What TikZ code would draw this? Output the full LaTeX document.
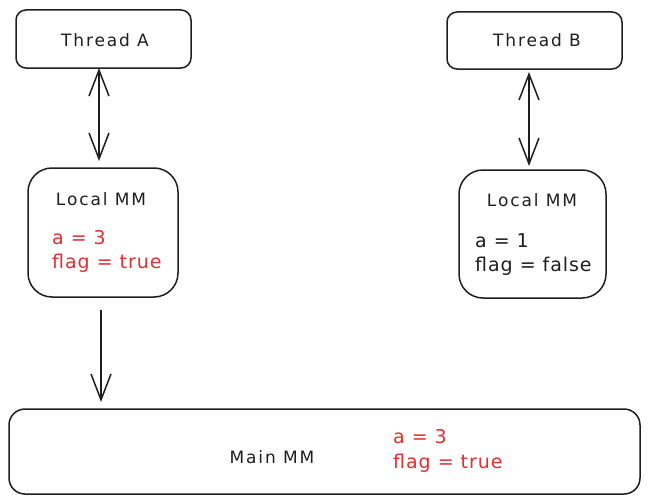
\documentclass[tikz,border=0pt]{standalone}
\usepackage{fontspec}
\setmainfont{DejaVu Sans}
\newfontfamily\lblfont[LetterSpace=11]{DejaVu Sans}
\newfontfamily\valfont[LetterSpace=5]{DejaVu Sans}
\usetikzlibrary{arrows.meta}
\definecolor{exred}{HTML}{E03131}
\definecolor{exink}{HTML}{1E1E1E}
\begin{document}
\begin{tikzpicture}[x=1pt,y=-1pt,
  box/.style={draw=exink,line width=1.5pt},
  lbl/.style={font=\lblfont\fontsize{17}{19}\selectfont,text=exink,inner sep=0pt},
  val/.style={font=\valfont\fontsize{19}{21}\selectfont,inner sep=0pt,anchor=west},
  conn/.style={draw=exink,line width=1.5pt,arrows={Straight Barb[length=26pt,width=20pt]-Straight Barb[length=26pt,width=20pt]}},
  oneway/.style={draw=exink,line width=1.5pt,-{Straight Barb[length=26pt,width=20pt]}}]
\useasboundingbox (0,0) rectangle (650,503);
% boxes
\draw[box,rounded corners=10pt] (16,10) rectangle (191,68);
\draw[box,rounded corners=10pt] (447,12) rectangle (622,69);
\draw[box,rounded corners=24pt] (28,168) rectangle (178,297);
\draw[box,rounded corners=24pt] (459,170) rectangle (606,298);
\draw[box,rounded corners=16pt] (9,409) rectangle (640,494);
% anchor coordinates
\coordinate (ta) at (99,68);
\coordinate (la) at (99,161);
\coordinate (tb) at (529,72);
\coordinate (lb) at (529,166);
\coordinate (ls) at (101,310);
\coordinate (mm) at (101,402);
% labels
\node[lbl] (tA) at (105,40) {Thread A};
\node[lbl] (tB) at (537,40) {Thread B};
\node[lbl] (lA) at (101,199) {Local MM};
\node[lbl] (lB) at (532,200) {Local MM};
\node[lbl] (mM) at (272,457) {Main MM};
\node[val,text=exred] (a1) at (52,238) {a = 3};
\node[val,text=exred] (f1) at (52,263) {flag = true};
\node[val,text=exink] (a2) at (475,241) {a = 1};
\node[val,text=exink] (f2) at (475,266) {flag = false};
\node[val,text=exred] (a3) at (393,437) {a = 3};
\node[val,text=exred] (f3) at (393,463) {flag = true};
% connectors
\draw[conn] (ta) -- (la);
\draw[conn] (tb) -- (lb);
\draw[oneway] (ls) -- (mm);
\end{tikzpicture}
\end{document}
